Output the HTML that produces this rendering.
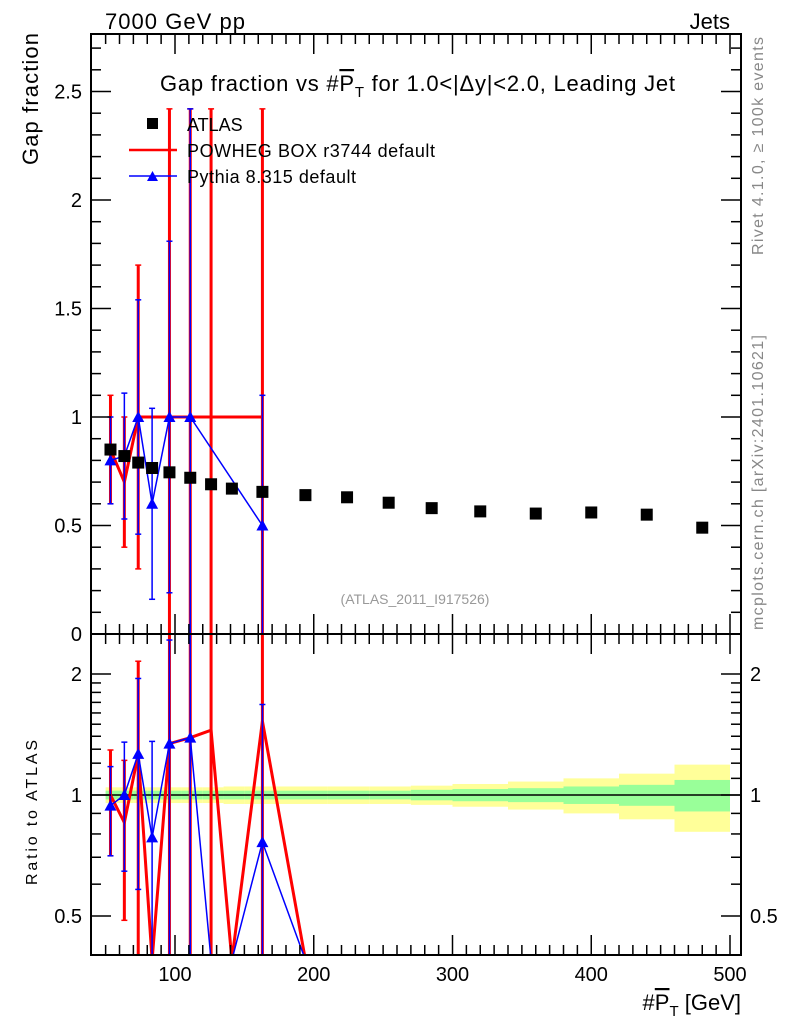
<!DOCTYPE html>
<html><head><meta charset="utf-8"><style>
body{margin:0;background:#fff;}
svg{font-family:"Liberation Sans",sans-serif;}
</style></head><body>
<svg id="c" width="786" height="1024" xmlns="http://www.w3.org/2000/svg">
<defs>
<clipPath id="cm"><rect x="91" y="34" width="650" height="600"/></clipPath>
<clipPath id="cr"><rect x="91" y="634" width="650" height="321"/></clipPath>
</defs>
<g id="bands" clip-path="url(#cr)"></g>
<g id="main" clip-path="url(#cm)"></g>
<g id="ratio" clip-path="url(#cr)"></g>
<g id="axes"></g>
<rect x="91" y="34" width="650" height="600" fill="none" stroke="#000" stroke-width="2"/>
<rect x="91" y="634" width="650" height="321" fill="none" stroke="#000" stroke-width="2"/>
<text x="105" y="29" font-size="22" textLength="140">7000 GeV pp</text>
<text x="730" y="29" font-size="22" text-anchor="end">Jets</text>
<text x="160" y="91" font-size="22" textLength="515">Gap fraction vs #<tspan text-decoration="overline">P</tspan><tspan font-size="15" dy="6">T</tspan><tspan dy="-6"> for 1.0&lt;|Δy|&lt;2.0, Leading Jet</tspan></text>
<g>
<rect x="147" y="118" width="11" height="11" fill="#000"/>
<text x="187" y="131" font-size="18">ATLAS</text>
<line x1="129" y1="150" x2="177" y2="150" stroke="#f00" stroke-width="2.5"/>
<text x="187" y="157" font-size="18" textLength="248">POWHEG BOX r3744 default</text>
<line x1="129" y1="176" x2="177" y2="176" stroke="#00f" stroke-width="1.5"/>
<polygon points="147,181 158,181 152.5,171" fill="#00f"/>
<text x="187" y="183" font-size="18" textLength="169">Pythia 8.315 default</text>
</g>
<text x="415" y="604" font-size="14" fill="#999" text-anchor="middle">(ATLAS_2011_I917526)</text>
<text transform="translate(38,33) rotate(-90)" font-size="22" text-anchor="end" textLength="132">Gap fraction</text>
<text transform="translate(37,885) rotate(-90)" font-size="16" textLength="145">Ratio to ATLAS</text>
<text x="741" y="1010" font-size="22" text-anchor="end">#<tspan text-decoration="overline">P</tspan><tspan font-size="15" dy="6">T</tspan><tspan dy="-6"> [GeV]</tspan></text>
<text transform="translate(763,255) rotate(-90)" font-size="16" fill="#888" textLength="218">Rivet 4.1.0, ≥ 100k events</text>
<text transform="translate(763,630) rotate(-90)" font-size="16" fill="#888" textLength="295">mcplots.cern.ch [arXiv:2401.10621]</text>
</svg>
<script>
const xCenters=[53.5,63.5,73.5,83.5,96,111,126,141,163,194,224,254,285,320,360,400,440,480];
const binEdges=[50,60,70,80,90,105,120,135,150,180,210,240,270,300,340,380,420,460,500];
const atlasVals=[0.85,0.82,0.79,0.765,0.745,0.72,0.69,0.67,0.655,0.64,0.63,0.605,0.58,0.565,0.555,0.56,0.55,0.49];
const statRel=[0.025,0.025,0.025,0.025,0.025,0.025,0.025,0.025,0.025,0.025,0.025,0.025,0.03,0.035,0.04,0.05,0.06,0.09];
const totRel=[0.045,0.045,0.045,0.045,0.045,0.045,0.045,0.05,0.05,0.05,0.05,0.05,0.055,0.065,0.08,0.1,0.13,0.19];
const powhegVals=[0.85,0.70,1.0,0,1.0,1.0,1.0,0,1.0,0,0,0,0,0,0,0,0,0];
const powhegErr=[0.25,0.3,0.7,0,1.42,1.42,1.42,0,1.42,0,0,0,0,0,0,0,0,0];
const pythiaVals=[0.80,0.82,1.0,0.6,1.0,1.0,0,0,0.5,0,0,0,0,0,0,0,0,0];
const pythiaErr=[0.2,0.29,0.54,0.44,0.81,1.42,0,0,0.6,0,0,0,0,0,0,0,0,0];
const mainTicks=[0,0.5,1,1.5,2,2.5];
const ratioTicks=[0.5,1,2];
const xTicks=[100,200,300,400,500];

const NS="http://www.w3.org/2000/svg";
const X=v=>175+(v-100)*1.3875;
const Y=v=>634-v*217;
const R=v=>v<=0?1100:795-Math.log2(v)*121;
function mk(tag,attrs,parent){const e=document.createElementNS(NS,tag);for(const k in attrs)e.setAttribute(k,attrs[k]);document.getElementById(parent).appendChild(e);return e;}

for(let i=0;i<xCenters.length;i++){
  const x1=X(binEdges[i]),x2=X(binEdges[i+1]);
  let e=mk('rect',{x:x1,y:R(1+totRel[i]),width:x2-x1,height:R(1-totRel[i])-R(1+totRel[i]),fill:'#ffff99'},'bands');
  
  
  e=mk('rect',{x:x1,y:R(1+statRel[i]),width:x2-x1,height:R(1-statRel[i])-R(1+statRel[i]),fill:'#99ff99'},'bands');
  
  
}
let ln=mk('line',{x1:91,x2:741,y1:R(1),y2:R(1),stroke:'#000','stroke-width':1.5},'bands');



function series(vals,errs,color,w,tri,name){
  let pts=[];
  vals.forEach((v,i)=>{if(v>0)pts.push(X(xCenters[i])+','+Y(v));});
  let p=mk('polyline',{points:pts.join(' '),fill:'none',stroke:color,'stroke-width':w},'main');
  
  
  vals.forEach((v,i)=>{
    if(errs[i]>0){
      const x=X(xCenters[i]);
      const e=mk('line',{x1:x,x2:x,y1:Y(Math.max(0,v-errs[i])),y2:Y(v+errs[i]),stroke:color,'stroke-width':w},'main');
      
      
      [v-errs[i],v+errs[i]].forEach(t=>{if(t>0){const c=mk('line',{x1:x-3,x2:x+3,y1:Y(t),y2:Y(t),stroke:color,'stroke-width':1.5},'main');
        
        }});
    }
    if(tri&&v>0){const x=X(xCenters[i]),y=Y(v);
      const t=mk('polygon',{points:`${x-6},${y+5} ${x+6},${y+5} ${x},${y-6}`,fill:color},'main');
      
      }
  });
  pts=vals.map((v,i)=>X(xCenters[i])+','+Math.min(R(v/atlasVals[i]),960));
  p=mk('polyline',{points:pts.join(' '),fill:'none',stroke:color,'stroke-width':w},'ratio');
  
  
  vals.forEach((v,i)=>{
    const r=v/atlasVals[i],er=errs[i]/atlasVals[i],x=X(xCenters[i]);
    if(errs[i]>0){
      const e=mk('line',{x1:x,x2:x,y1:Math.min(R(r-er),960),y2:R(r+er),stroke:color,'stroke-width':w},'ratio');
      
      
      [r-er,r+er].forEach(t=>{if(t>0){const c=mk('line',{x1:x-3,x2:x+3,y1:R(t),y2:R(t),stroke:color,'stroke-width':1.5},'ratio');
        
        }});
    }
    if(tri&&v>0){const y=R(r);
      const t=mk('polygon',{points:`${x-6},${y+5} ${x+6},${y+5} ${x},${y-6}`,fill:color},'ratio');
      
      }
  });
}
series(powhegVals,powhegErr,'#f00',3,false,'powheg');
series(pythiaVals,pythiaErr,'#00f',1.5,true,'pythia');
atlasVals.forEach((v,i)=>{
  const r=mk('rect',{x:X(xCenters[i])-6,y:Y(v)-6,width:12,height:12,fill:'#000'},'main');
  
  
});

function tk(x1,y1,x2,y2){const l=mk('line',{x1,y1,x2,y2,stroke:'#000','stroke-width':1.5},'axes');
  
  }
for(let k=0;k<=27;k++){const v=k/10,y=Y(v),maj=k%5==0;tk(91,y,91+(maj?20:10),y);tk(741,y,741-(maj?20:10),y);}
mainTicks.forEach(v=>{const t=mk('text',{x:82,y:Y(v)+7,'font-size':20,'text-anchor':'end'},'axes');t.textContent=String(v);
  
  });
for(let v=0.5;v<=2.01;v+=0.1){const y=R(v);if(y<636||y>953)continue;const maj=ratioTicks.some(t=>Math.abs(t-v)<1e-6);tk(91,y,91+(maj?20:10),y);tk(741,y,741-(maj?20:10),y);}
ratioTicks.forEach(v=>{
  let t=mk('text',{x:82,y:R(v)+7,'font-size':20,'text-anchor':'end'},'axes');t.textContent=String(v);
  
  
  t=mk('text',{x:750,y:R(v)+7,'font-size':20},'axes');t.textContent=String(v);
  
  
});
for(let v=50;v<=510;v+=10){const x=X(v);if(x<92||x>740)continue;const maj=v%100==0;
  tk(x,634,x,634-(maj?20:10));tk(x,34,x,34+(maj?20:10));tk(x,955,x,955-(maj?20:10));tk(x,634,x,634+(maj?20:10));}
xTicks.forEach(v=>{const t=mk('text',{x:X(v),y:981,'font-size':20,'text-anchor':'middle'},'axes');t.textContent=String(v);
  
  });
</script>
</body></html>
